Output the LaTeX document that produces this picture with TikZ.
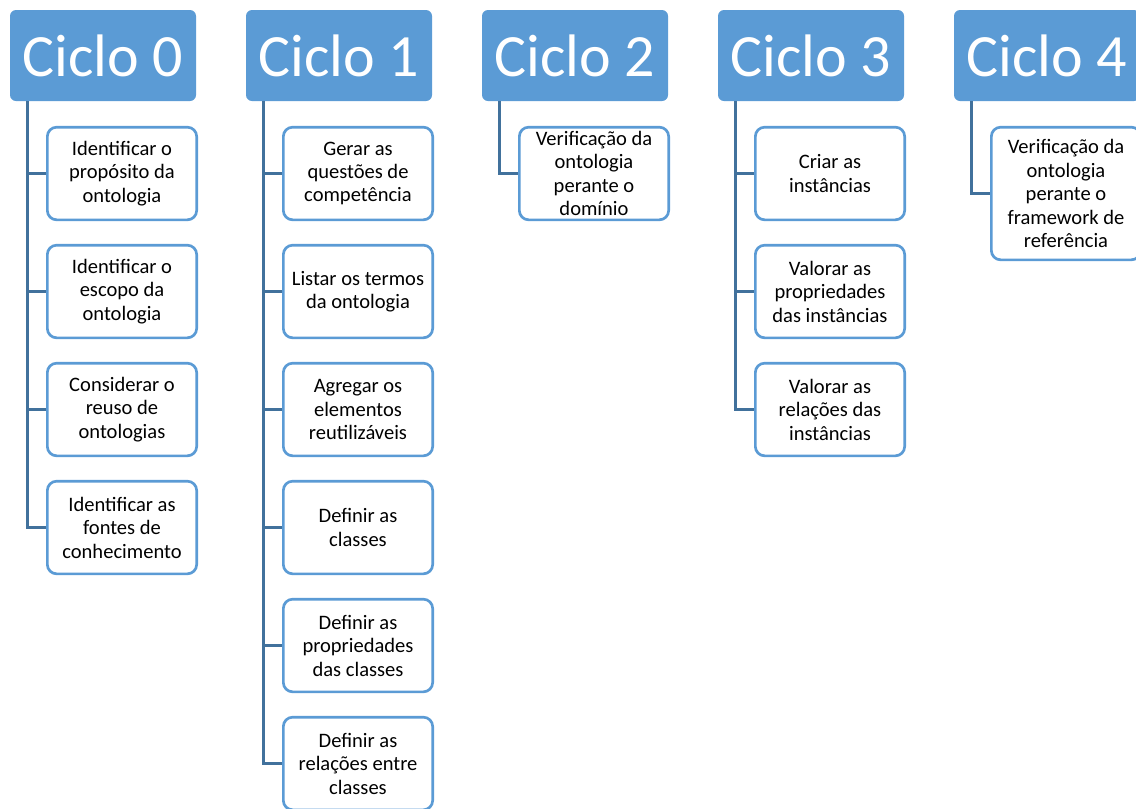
\documentclass[tikz,border=0pt]{standalone}
\usepackage{fontspec}
\setmainfont{Carlito}
\definecolor{cyclefill}{HTML}{5B9BD5}
\definecolor{taskedge}{HTML}{5B9BD5}
\definecolor{linkblue}{HTML}{41719C}
\tikzset{
  cycle/.style={fill=cyclefill, rounded corners=4.5pt, minimum width=139.5pt,
    minimum height=68.25pt, inner sep=0pt, text=white,
    font=\fontsize{45}{50}\selectfont},
  task/.style={draw=taskedge, line width=2pt, fill=white, rounded corners=7pt,
    minimum width=112pt, minimum height=69.5pt, inner sep=0pt, align=center,
    font=\fontsize{15.4}{17.6}\selectfont},
  tall/.style={task, minimum height=99.5pt},
  link/.style={draw=linkblue, line width=2.2pt}
}
\begin{document}
\begin{tikzpicture}[x=0.75pt, y=-0.75pt]
\useasboundingbox (0,0) rectangle (1136,808);
\clip (0,0) rectangle (1136,808);

% cycle headers
\node[cycle] (h0) at (103,55.5) {Ciclo 0};
\node[cycle] (h1) at (339,55.5) {Ciclo 1};
\node[cycle] (h2) at (575,55.5) {Ciclo 2};
\node[cycle] (h3) at (811,55.5) {Ciclo 3};
\node[cycle] (h4) at (1047,55.5) {Ciclo 4};

% stems of the connectors
\foreach \i in {0,...,4}
  \coordinate (s\i) at ([xshift=13.5pt]h\i.south west);

% Ciclo 0
\node[task] (t0a) at (122,173.5) {Identificar o\\propósito da\\ontologia};
\node[task] (t0b) at (122,291.5) {Identificar o\\escopo da\\ontologia};
\node[task] (t0c) at (122,409.5) {Considerar o\\reuso de\\ontologias};
\node[task] (t0d) at (122,527.5) {Identificar as\\fontes de\\conhecimento};

% Ciclo 1
\node[task] (t1a) at (358,173.5) {Gerar as\\questões de\\competência};
\node[task] (t1b) at (358,291.5) {Listar os termos\\da ontologia};
\node[task] (t1c) at (358,409.5) {Agregar os\\elementos\\reutilizáveis};
\node[task] (t1d) at (358,527.5) {Definir as\\classes};
\node[task] (t1e) at (358,645.5) {Definir as\\propriedades\\das classes};
\node[task] (t1f) at (358,763.5) {Definir as\\relações entre\\classes};

% Ciclo 2
\node[task] (t2a) at (594,173.5) {Verificação da\\ontologia\\perante o\\domínio};

% Ciclo 3
\node[task] (t3a) at (830,173.5) {Criar as\\instâncias};
\node[task] (t3b) at (830,291.5) {Valorar as\\propriedades\\das instâncias};
\node[task] (t3c) at (830,409.5) {Valorar as\\relações das\\instâncias};

% Ciclo 4
\node[tall] (t4a) at (1066,193.5) {Verificação da\\ontologia\\perante o\\framework de\\referência};

% connectors
\foreach \t in {t0a,t0b,t0c,t0d}
  \draw[link] (s0) |- (\t.west);
\foreach \t in {t1a,t1b,t1c,t1d,t1e,t1f}
  \draw[link] (s1) |- (\t.west);
\draw[link] (s2) |- (t2a.west);
\foreach \t in {t3a,t3b,t3c}
  \draw[link] (s3) |- (\t.west);
\draw[link] (s4) |- (t4a.west);
\end{tikzpicture}
\end{document}
